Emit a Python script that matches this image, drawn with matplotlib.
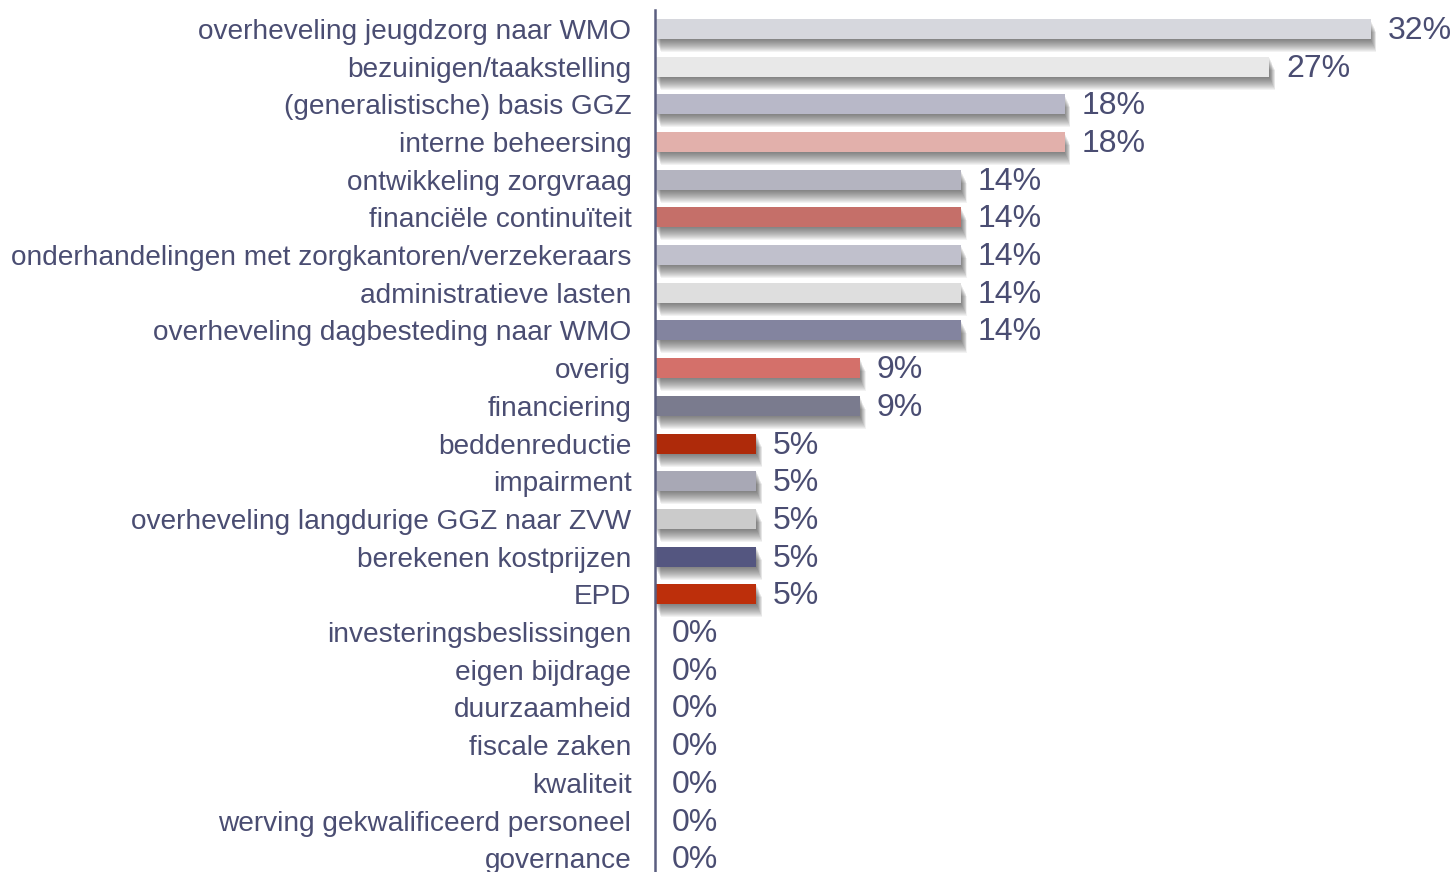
import matplotlib
matplotlib.use("Agg")
import matplotlib.pyplot as plt
from matplotlib.transforms import ScaledTranslation

categories = [
    "overheveling jeugdzorg naar WMO",
    "bezuinigen/taakstelling",
    "(generalistische) basis GGZ",
    "interne beheersing",
    "ontwikkeling zorgvraag",
    "financiële continuïteit",
    "onderhandelingen met zorgkantoren/verzekeraars",
    "administratieve lasten",
    "overheveling dagbesteding naar WMO",
    "overig",
    "financiering",
    "beddenreductie",
    "impairment",
    "overheveling langdurige GGZ naar ZVW",
    "berekenen kostprijzen",
    "EPD",
    "investeringsbeslissingen",
    "eigen bijdrage",
    "duurzaamheid",
    "fiscale zaken",
    "kwaliteit",
    "werving gekwalificeerd personeel",
    "governance",
]
values = [31.8, 27.3, 18.2, 18.2, 13.6, 13.6, 13.6, 13.6, 13.6, 9.1, 9.1,
          4.5, 4.5, 4.5, 4.5, 4.5, 0, 0, 0, 0, 0, 0, 0]
value_labels = ["32%", "27%", "18%", "18%", "14%", "14%", "14%", "14%", "14%",
                "9%", "9%", "5%", "5%", "5%", "5%", "5%",
                "0%", "0%", "0%", "0%", "0%", "0%", "0%"]
colors = ["#d6d7dd", "#e8e8e8", "#b8b8c8", "#e2b0ab", "#b4b4c0", "#c56f69",
          "#c0c0cc", "#dedede", "#83849f", "#d4706a", "#7a7b8e", "#ae2a0a",
          "#a8a8b5", "#cbcbcb", "#545680", "#bd2f0b",
          "#cccccc", "#cccccc", "#cccccc", "#cccccc", "#cccccc", "#cccccc", "#cccccc"]

plt.rcParams['font.family'] = ['Liberation Sans', 'DejaVu Sans']
TEXT = "#4a4d72"

W, H = 1455, 872
fig = plt.figure(figsize=(W / 100, H / 100), dpi=100)
ax_left = 655 / W
ax_top = 10 / H
ax = fig.add_axes([ax_left, 0, 1 - ax_left, 1 - ax_top])

n = len(categories)
ypos = list(range(n))
row_px = 37.7
units = (H - 10) / row_px
ax.set_ylim(-0.5 + units, -0.5)
ax.set_xlim(0, (W - 655) / 22.5)

bar_h = 0.53

# soft drop shadows (layered translucent copies, offset down/right)
for dy in range(1, 14):
    dx = dy * 0.45
    tr = ax.transData + ScaledTranslation(dx / 100, -dy / 100, fig.dpi_scale_trans)
    for y, v in zip(ypos, values):
        if v > 0:
            ax.barh(y, v, height=bar_h, left=0, color="#2a2a2a", alpha=0.06,
                    transform=tr, linewidth=0, zorder=1)

ax.barh(ypos, values, height=bar_h, color=colors, linewidth=0, zorder=3)

for y, v, lab in zip(ypos, values, value_labels):
    ax.annotate(lab, xy=(v, y), xytext=(17, -2), textcoords="offset pixels",
                ha="left", va="center", fontsize=23, color=TEXT,
                annotation_clip=False, zorder=4)

ax.set_yticks(ypos)
ax.set_yticklabels(categories, fontsize=20.2, color=TEXT)
ax.tick_params(axis="y", length=0, pad=17)
ax.set_xticks([])
for s in ["top", "right", "bottom"]:
    ax.spines[s].set_visible(False)
ax.spines["left"].set_color("#5b5e80")
ax.spines["left"].set_linewidth(1.8)
ax.spines["left"].set_zorder(5)
ax.patch.set_alpha(0)

fig.savefig("out.png", dpi=100)
